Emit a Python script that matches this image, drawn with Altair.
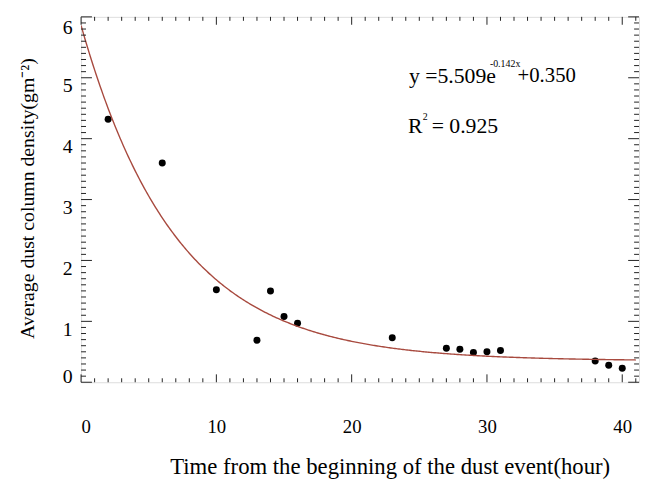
import altair as alt
import pandas as pd

# ---- data ----
hours = [2, 6, 10, 13, 14, 15, 16, 23, 27, 28, 29, 30, 31, 38, 39, 40]
density = [4.32, 3.60, 1.52, 0.69, 1.50, 1.08, 0.97, 0.73, 0.56, 0.54, 0.49, 0.50, 0.52, 0.35, 0.28, 0.23]

# fitted curve parameters shown on the chart: y = a*exp(b*x) + c
fit_a, fit_b, fit_c = 5.509, -0.142, 0.350
fit_x_end = 41

x_major = [0, 10, 20, 30, 40]
y_major = [0, 1, 2, 3, 4, 5, 6]
x_minor = [i for i in range(0, 42) if i % 10 != 0]
y_minor = [round(i / 10, 1) for i in range(0, 61) if i % 10 != 0]

eq_main = "y =5.509e"
eq_sup = "-0.142x"
eq_tail = "+0.350"
r_main = "R"
r_sup = "2"
r_tail = "= 0.925"
x_title = "Time from the beginning of the dust event(hour)"
y_title = "Average dust column density(gm\u207b\u00b2)"

# ---- layout ----
W, H = 565, 370
FONT = "Liberation Serif"
INK = "#222222"

xs = alt.Scale(domain=[0, 41.24], nice=False, zero=False)
ys = alt.Scale(domain=[0, 6], nice=False, zero=False)

ax_x = alt.Axis(values=x_major, ticks=False, domain=False, grid=False,
                labelFont=FONT, labelFontSize=19, labelColor="black",
                labelPadding=36, title=None)
ax_y = alt.Axis(values=y_major, ticks=False, domain=False, grid=False,
                labelFont=FONT, labelFontSize=20, labelColor="black",
                labelPadding=9, title=None,
                labelOffset={"condition": [
                    {"test": "datum.value == 0", "value": -6},
                    {"test": "datum.value == 6", "value": 11}],
                    "value": 8})

pts = pd.DataFrame({"hour": hours, "density": density})

points = alt.Chart(pts).mark_circle(size=50, color="black", opacity=1).encode(
    x=alt.X("hour:Q", scale=xs, axis=ax_x),
    y=alt.Y("density:Q", scale=ys, axis=ax_y),
)

curve = alt.Chart(alt.sequence(0, fit_x_end + 0.001, 0.1, as_="t")).transform_calculate(
    fy=f"{fit_a} * exp({fit_b} * datum.t) + {fit_c}"
).mark_line(color="#a84a3f", strokeWidth=1.4, clip=True).encode(
    x=alt.X("t:Q", scale=xs, axis=ax_x),
    y=alt.Y("fy:Q", scale=ys, axis=ax_y),
)

def xticks(vals, length):
    d = pd.DataFrame({"v": vals})
    base = alt.Chart(d).mark_rule(color=INK, strokeWidth=1)
    bottom = base.encode(x=alt.X("v:Q", scale=xs, axis=ax_x), y=alt.value(H), y2=alt.value(H - length))
    top = base.encode(x=alt.X("v:Q", scale=xs, axis=ax_x), y=alt.value(0), y2=alt.value(length))
    return [bottom, top]

def yticks(vals, length, right=True):
    d = pd.DataFrame({"v": vals})
    base = alt.Chart(d).mark_rule(color=INK, strokeWidth=1)
    out = [base.encode(y=alt.Y("v:Q", scale=ys, axis=ax_y), x=alt.value(0), x2=alt.value(length))]
    if right:
        out.append(base.encode(y=alt.Y("v:Q", scale=ys, axis=ax_y), x=alt.value(W), x2=alt.value(W - length)))
    return out

tick_layers = xticks(x_major, 8) + xticks(x_minor, 4) + yticks(y_major, 11) + yticks(y_minor, 5)

def label(text, x, y, size, align="left", angle=0):
    return alt.Chart(pd.DataFrame({"t": [text]})).mark_text(
        font=FONT, fontSize=size, color="black", align=align, baseline="middle", angle=angle
    ).encode(text="t:N", x=alt.value(x), y=alt.value(y))

texts = [
    label(eq_main, 332, 60, 22),
    label(eq_sup, 414, 48, 10),
    label(eq_tail, 442, 60, 21),
    label(r_main, 331, 111, 22),
    label(r_sup, 346, 101, 10),
    label(r_tail, 355, 111, 22),
    label(x_title, 313, 456, 23, align="center"),
    label(y_title, -54, 184, 20, align="center", angle=270),
]

chart = alt.layer(points, curve, *tick_layers, *texts).properties(
    width=W, height=H,
    autosize=alt.AutoSizeParams(type="none"),
    padding={"left": 74, "top": 6, "right": 2, "bottom": 95},
).configure_view(stroke=INK, strokeWidth=1.5).configure(background="white")

chart.save("out.html", embed_options={"renderer": "svg", "actions": False})
